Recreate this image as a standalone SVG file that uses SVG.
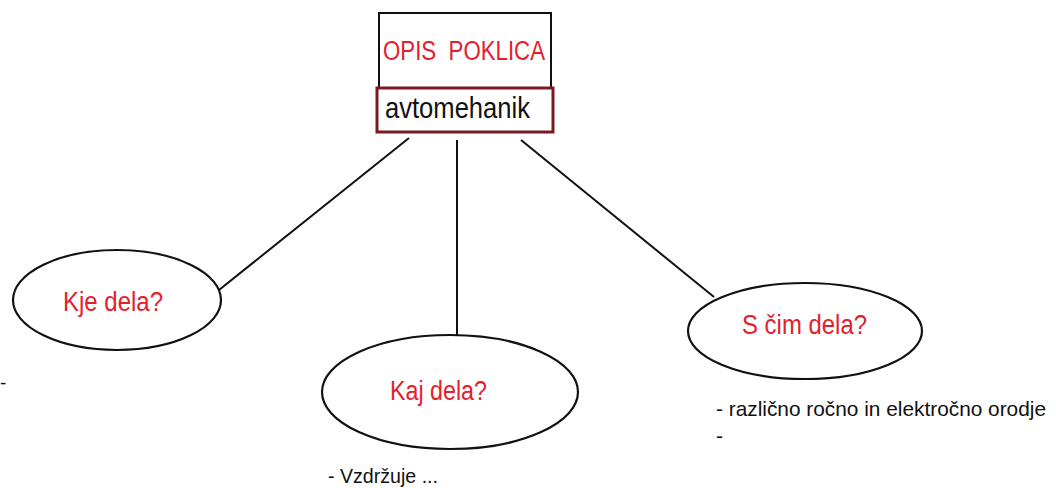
<svg xmlns="http://www.w3.org/2000/svg" width="1056" height="488" viewBox="0 0 1056 488">
<style>
.t{font-family:"Liberation Sans",Arial,sans-serif;}
.red{fill:#e3202c;font-size:27px;}
.blk{fill:#111;}
.ell{fill:#fff;stroke:#111;stroke-width:2.2;}
.con{stroke:#111;stroke-width:2;fill:none;}
</style>
<rect width="1056" height="488" fill="#fff"/>
<g id="connectors">
<line class="con" x1="409" y1="138" x2="219" y2="290"/>
<line class="con" x1="457" y1="140" x2="457" y2="335"/>
<line class="con" x1="521" y1="140" x2="714" y2="297"/>
</g>
<g id="title">
<rect x="379" y="13" width="172" height="75" fill="#fff" stroke="#111" stroke-width="2"/>
<text class="t red" x="383" y="60" font-size="27" textLength="162" lengthAdjust="spacingAndGlyphs" style="white-space:pre">OPIS  POKLICA</text>
</g>
<g id="avtomehanik">
<rect x="377" y="88" width="176" height="44" fill="#fff" stroke="#7b1a20" stroke-width="3"/>
<text class="t blk" x="385" y="118" font-size="29" textLength="145" lengthAdjust="spacingAndGlyphs">avtomehanik</text>
</g>
<g id="kje">
<ellipse class="ell" cx="117" cy="300" rx="104" ry="50"/>
<text class="t red" x="63" y="311" textLength="100" lengthAdjust="spacingAndGlyphs">Kje dela?</text>
</g>
<g id="kaj">
<ellipse class="ell" cx="450" cy="392" rx="128" ry="57"/>
<text class="t red" x="390" y="400" textLength="97" lengthAdjust="spacingAndGlyphs">Kaj dela?</text>
</g>
<g id="scim">
<ellipse class="ell" cx="805" cy="331" rx="117" ry="48"/>
<text class="t red" x="742" y="334" textLength="125" lengthAdjust="spacingAndGlyphs">S čim dela?</text>
</g>
<g id="notes">
<text class="t blk" x="328" y="483" font-size="20" textLength="110" lengthAdjust="spacingAndGlyphs">- Vzdržuje ...</text>
<text class="t blk" x="716" y="416" font-size="21" textLength="330" lengthAdjust="spacingAndGlyphs">- različno ročno in elektročno orodje</text>
<text class="t blk" x="716" y="443" font-size="21">-</text>
<text class="t blk" x="0" y="389" font-size="19">-</text>
</g>
</svg>
